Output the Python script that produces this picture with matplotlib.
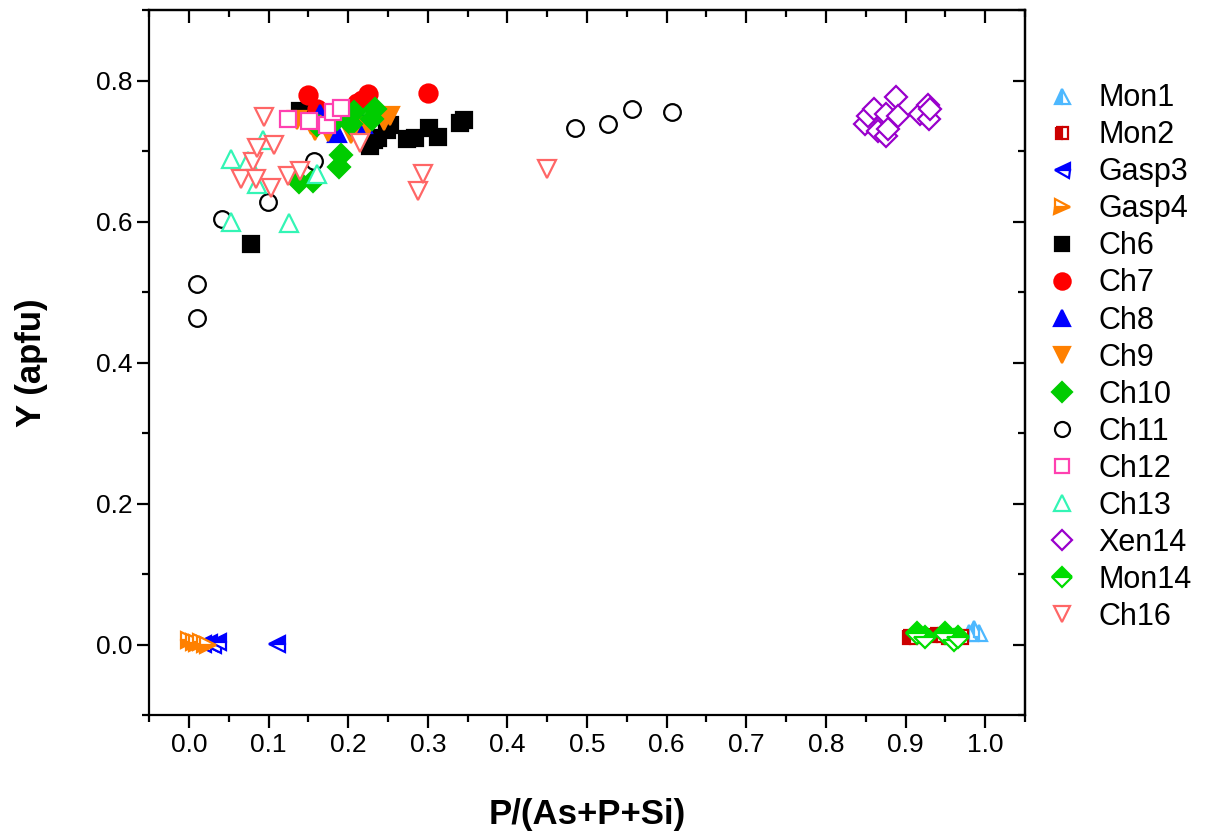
import matplotlib
matplotlib.use('Agg')
import matplotlib.pyplot as plt
from matplotlib.ticker import MultipleLocator

plt.rcParams['font.family'] = ['Liberation Sans', 'DejaVu Sans']

# data: P/(As+P+Si) vs Y (apfu)
mon1_x = [0.980, 0.986, 0.992]
mon1_y = [0.017, 0.022, 0.016]

mon2_x = [0.906, 0.920, 0.940, 0.955, 0.970]
mon2_y = [0.010, 0.012, 0.013, 0.011, 0.010]

gasp3_x = [0.018, 0.025, 0.030, 0.036, 0.111]
gasp3_y = [0.001, 0.002, 0.000, 0.003, 0.001]

gasp4_x = [0.000, 0.006, 0.010, 0.015, 0.020, 0.024]
gasp4_y = [0.006, 0.004, 0.002, 0.003, 0.001, 0.000]

ch6_x = [0.078, 0.140, 0.228, 0.232, 0.238, 0.249, 0.253, 0.274, 0.284, 0.302, 0.313, 0.340, 0.346]
ch6_y = [0.568, 0.757, 0.707, 0.715, 0.718, 0.730, 0.737, 0.717, 0.718, 0.732, 0.720, 0.740, 0.744]

ch7_x = [0.149, 0.161, 0.211, 0.218, 0.225, 0.300]
ch7_y = [0.779, 0.760, 0.768, 0.773, 0.781, 0.783]

ch8_x = [0.165, 0.186, 0.213, 0.219, 0.238]
ch8_y = [0.752, 0.726, 0.746, 0.739, 0.752]

ch9_x = [0.136, 0.153, 0.158, 0.175, 0.203, 0.225, 0.245, 0.253]
ch9_y = [0.744, 0.737, 0.728, 0.727, 0.724, 0.735, 0.743, 0.749]

ch10_x = [0.138, 0.156, 0.161, 0.186, 0.188, 0.191, 0.203, 0.207, 0.230, 0.234]
ch10_y = [0.656, 0.658, 0.737, 0.745, 0.677, 0.695, 0.739, 0.756, 0.746, 0.760]

ch11_x = [0.010, 0.010, 0.042, 0.099, 0.157, 0.485, 0.526, 0.556, 0.607]
ch11_y = [0.511, 0.463, 0.604, 0.627, 0.686, 0.733, 0.738, 0.760, 0.755]

ch12_x = [0.124, 0.151, 0.174, 0.181, 0.191]
ch12_y = [0.746, 0.743, 0.737, 0.755, 0.761]

ch13_x = [0.053, 0.053, 0.074, 0.086, 0.093, 0.126, 0.161]
ch13_y = [0.600, 0.688, 0.686, 0.653, 0.716, 0.598, 0.667]

xen14_x = [0.849, 0.853, 0.861, 0.865, 0.875, 0.875, 0.878, 0.888, 0.890, 0.918, 0.928, 0.930, 0.931]
xen14_y = [0.738, 0.749, 0.760, 0.729, 0.752, 0.721, 0.731, 0.777, 0.749, 0.753, 0.766, 0.746, 0.759]

mon14_x = [0.915, 0.925, 0.950, 0.961, 0.966]
mon14_y = [0.016, 0.010, 0.016, 0.006, 0.011]

ch16_x = [0.065, 0.081, 0.084, 0.086, 0.094, 0.103, 0.107, 0.124, 0.140, 0.215, 0.288, 0.294, 0.450]
ch16_y = [0.661, 0.685, 0.661, 0.704, 0.748, 0.647, 0.709, 0.664, 0.672, 0.712, 0.643, 0.667, 0.674]

x_ticks = [i / 10 for i in range(11)]
y_ticks = [0.0, 0.2, 0.4, 0.6, 0.8]

fig = plt.figure(figsize=(12.05, 8.36), dpi=100)
ax = fig.add_axes([0.1237, 0.1447, 0.7269, 0.8433])

mew = 1.6

def pts(x, y, label, marker, color, fill='full', size=12):
    if fill == 'none':
        ax.plot(x, y, ls='none', marker=marker, ms=size, mew=mew, mec=color,
                mfc='white', label=label)
    else:
        ax.plot(x, y, ls='none', marker=marker, ms=size, mew=mew, mec=color,
                mfc=color, fillstyle=fill, markerfacecoloralt='white', label=label)

pts(mon1_x, mon1_y, 'Mon1', '^', '#4db8ff', 'left')
pts(mon2_x, mon2_y, 'Mon2', 's', '#cc0000', 'left', 10)
pts(gasp3_x, gasp3_y, 'Gasp3', '<', '#0000ff', 'top')
pts(gasp4_x, gasp4_y, 'Gasp4', '>', '#ff8000', 'bottom')
pts(ch6_x, ch6_y, 'Ch6', 's', 'black', 'full', 11)
pts(ch7_x, ch7_y, 'Ch7', 'o', '#ff0000', 'full', 13)
pts(ch8_x, ch8_y, 'Ch8', '^', '#0000ff', 'full', 13)
pts(ch9_x, ch9_y, 'Ch9', 'v', '#ff8000', 'full', 13)
pts(ch10_x, ch10_y, 'Ch10', 'D', '#00cc00', 'full', 11)
pts(ch11_x, ch11_y, 'Ch11', 'o', 'black', 'none', 12)
pts(ch12_x, ch12_y, 'Ch12', 's', '#ff40b0', 'none', 11)
pts(ch13_x, ch13_y, 'Ch13', '^', '#33f5b5', 'none', 13)
pts(xen14_x, xen14_y, 'Xen14', 'D', '#9900cc', 'none', 11)
pts(mon14_x, mon14_y, 'Mon14', 'D', '#00dd00', 'top', 11)
pts(ch16_x, ch16_y, 'Ch16', 'v', '#ff6666', 'none', 13)

ax.set_xlim(-0.05, 1.05)
ax.set_ylim(-0.1, 0.9)
ax.xaxis.set_minor_locator(MultipleLocator(0.05))
ax.yaxis.set_minor_locator(MultipleLocator(0.1))
ax.set_xticks(x_ticks)
ax.set_xticklabels([f'{v:.1f}' for v in x_ticks], fontsize=19)
ax.set_yticks(y_ticks)
ax.set_yticklabels([f'{v:.1f}' for v in y_ticks], fontsize=19)

for s in ax.spines.values():
    s.set_linewidth(1.6)
ax.tick_params(which='both', direction='out', width=1.6)
ax.tick_params(axis='x', pad=4)
ax.tick_params(axis='y', pad=3)
ax.tick_params(which='major', length=9)
ax.tick_params(which='minor', length=5)

# inward ticks on top and right, no labels
ax_t = ax.secondary_xaxis('top')
ax_t.set_xticks(x_ticks)
ax_t.xaxis.set_minor_locator(MultipleLocator(0.05))
ax_t.tick_params(which='both', direction='in', width=1.6, labeltop=False)
ax_t.tick_params(which='major', length=9)
ax_t.tick_params(which='minor', length=5)
ax_t.spines['top'].set_linewidth(1.6)
ax_r = ax.secondary_yaxis('right')
ax_r.set_yticks(y_ticks)
ax_r.yaxis.set_minor_locator(MultipleLocator(0.1))
ax_r.tick_params(which='both', direction='in', width=1.6, labelright=False)
ax_r.tick_params(which='major', length=9)
ax_r.tick_params(which='minor', length=5)
ax_r.spines['right'].set_linewidth(1.6)

ax.set_xlabel('P/(As+P+Si)', fontsize=25, fontweight='bold')
ax.set_ylabel('Y (apfu)', fontsize=25, fontweight='bold')
ax.xaxis.set_label_coords(0.5, -0.118)
ax.yaxis.set_label_coords(-0.115, 0.5)

ax.legend(loc='upper left', bbox_to_anchor=(0.99, 0.935), frameon=False,
          fontsize=22, handletextpad=0.6, labelspacing=0.23, markerscale=0.9,
          handlelength=1.2, borderaxespad=0.5)

plt.savefig('out.png', dpi=100)
